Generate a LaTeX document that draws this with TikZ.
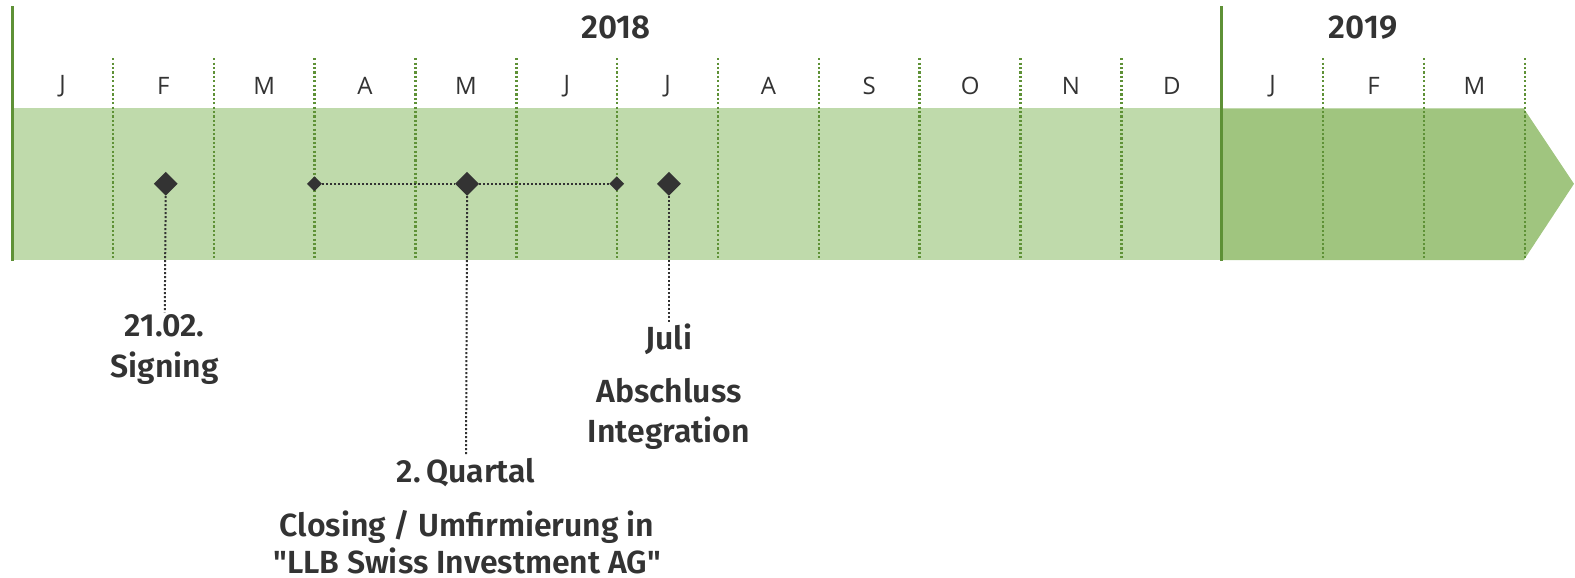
\documentclass[tikz,border=0pt]{standalone}
\usepackage{fontspec}
\newfontfamily\labelfont{Fira Sans SemiBold}
\newfontfamily\monthfont{Open Sans}
\usepackage{pgf,tikz}
\usetikzlibrary{shapes.geometric}
\definecolor{lightband}{HTML}{BFDAAB}
\definecolor{darkband}{HTML}{A0C57F}
\definecolor{gridgreen}{HTML}{5E9136}
\definecolor{inkgray}{HTML}{333333}
\tikzset{
  yearline/.style={color=gridgreen,line width=3pt},
  monthsep/.style={color=gridgreen,line width=2.5pt,dash pattern=on 2.2pt off 2.2pt},
  stem/.style={color=inkgray,line width=2pt,dash pattern=on 2pt off 2pt},
  bigmile/.style={diamond,fill=inkgray,inner sep=0pt,minimum size=24pt},
  smallmile/.style={diamond,fill=inkgray,inner sep=0pt,minimum size=15pt},
  monthlbl/.style={text=inkgray,font=\monthfont\fontsize{24}{24}\selectfont},
  yearlbl/.style={text=inkgray,font=\labelfont\fontsize{33}{33}\selectfont},
  milelbl/.style={text=inkgray,align=center,inner sep=2pt,font=\labelfont\fontsize{32}{41}\selectfont}
}
\begin{document}
\begin{tikzpicture}[line join=round,x=1.00446pt,y=-1.00446pt]
  \useasboundingbox (0,0) rectangle (1568,575);
  % band
  \fill[lightband] (12,108) rectangle (1216,259);
  \fill[darkband] (1216,108) -- (1517,108) -- (1567,183) -- (1517,259) -- (1216,259) -- cycle;
  \foreach \k in {1,...,11,13,14,15}
    \draw[monthsep] (12+100.4*\k,58) -- (12+100.4*\k,259);
  \draw[yearline] (12,6) -- (12,260);
  \draw[yearline] (1216,6) -- (1216,260);

  % labels
  \node[yearlbl] (y2018) at (613,27) {2018};
  \node[yearlbl] (y2019) at (1357,27) {2019};
  \foreach \m [count=\i from 0] in {J,F,M,A,M,J,J,A,S,O,N,D,J,F,M}
    \node[monthlbl] (m\i) at (12+100.4*\i+50.2,86) {\m};

  % milestones
  \node[bigmile] (sign) at (165,183) {};
  \node[smallmile] (qstart) at (313,183) {};
  \node[bigmile] (close) at (465,183) {};
  \node[smallmile] (qend) at (614,183) {};
  \node[bigmile] (integ) at (666,183) {};
  \draw[stem] (qstart) -- (close);
  \draw[stem] (close) -- (qend);

  \node[milelbl] (signtxt) at (164,348) {21.02.\\Signing};
  \node[milelbl] (quartal) at (464,470) {2.\,Quartal};
  \node[milelbl,font=\labelfont\fontsize{32}{37}\selectfont] (closetxt) at (465,540)
    {Closing / Umfirmierung in\\"LLB Swiss Investment AG"};
  \node[milelbl] (juli) at (666,338) {Juli};
  \node[milelbl,font=\labelfont\fontsize{32}{40}\selectfont] (integtxt) at (666,412) {Abschluss\\Integration};

  \draw[stem] (sign.south) -- (signtxt.north);
  \draw[stem] (close.south) -- (quartal.north);
  \draw[stem] (integ.south) -- (juli.north);
\end{tikzpicture}
\end{document}
